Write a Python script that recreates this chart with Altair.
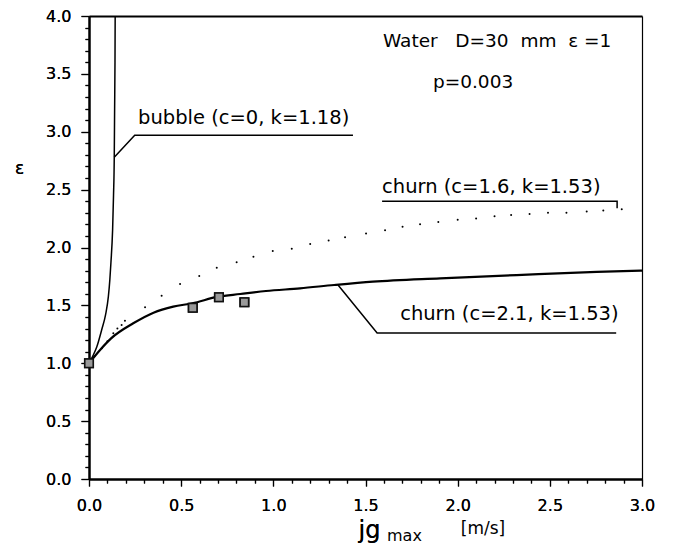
import altair as alt
import pandas as pd

# ---------------- data ----------------
bubble_x = [0.0, 0.02, 0.042, 0.069, 0.09, 0.105, 0.113, 0.119, 0.128, 0.133, 0.137, 0.139, 0.141, 0.142]
bubble_y = [1.0, 1.06, 1.14, 1.29, 1.42, 1.575, 1.72, 1.87, 2.15, 2.45, 2.78, 3.2, 3.6, 4.0]

churn21_x = [0.0, 0.06, 0.12, 0.24, 0.35, 0.457, 0.56, 0.70, 0.82, 0.96, 1.145, 1.33, 1.54, 1.905, 2.32, 2.755, 3.0]
churn21_y = [1.0, 1.115, 1.215, 1.345, 1.437, 1.489, 1.518, 1.575, 1.598, 1.624, 1.647, 1.676, 1.705, 1.734, 1.762, 1.79, 1.80]

churn16_x = [0.03, 0.07, 0.10, 0.132, 0.154, 0.177, 0.195, 0.304, 0.394, 0.494, 0.598, 0.693, 0.801, 0.892,
             0.997, 1.10, 1.20, 1.30, 1.389, 1.503, 1.606, 1.701, 1.796, 1.895, 2.0, 2.1, 2.2, 2.29, 2.39,
             2.49, 2.59, 2.70, 2.79, 2.89]
churn16_y = [1.06, 1.13, 1.19, 1.259, 1.30, 1.33, 1.368, 1.483, 1.584, 1.685, 1.754, 1.826, 1.872, 1.92,
             1.97, 1.99, 2.03, 2.06, 2.088, 2.12, 2.15, 2.18, 2.20, 2.22, 2.24, 2.25, 2.27, 2.28, 2.29,
             2.30, 2.30, 2.31, 2.32, 2.33]

exp_x = [0.0, 0.563, 0.705, 0.843]
exp_y = [1.0, 1.48, 1.57, 1.527]

x_ticks = [0.0, 0.1, 0.2, 0.3, 0.4, 0.5, 0.6, 0.7, 0.8, 0.9, 1.0, 1.1, 1.2, 1.3, 1.4, 1.5,
           1.6, 1.7, 1.8, 1.9, 2.0, 2.1, 2.2, 2.3, 2.4, 2.5, 2.6, 2.7, 2.8, 2.9, 3.0]
y_ticks = [0.0, 0.1, 0.2, 0.3, 0.4, 0.5, 0.6, 0.7, 0.8, 0.9, 1.0, 1.1, 1.2, 1.3, 1.4, 1.5,
           1.6, 1.7, 1.8, 1.9, 2.0, 2.1, 2.2, 2.3, 2.4, 2.5, 2.6, 2.7, 2.8, 2.9, 3.0,
           3.1, 3.2, 3.3, 3.4, 3.5, 3.6, 3.7, 3.8, 3.9, 4.0]

# annotation labels (text, x, y in data units)
label_text = ["bubble (c=0, k=1.18)", "churn (c=1.6, k=1.53)", "churn (c=2.1, k=1.53)"]
label_x = [0.266, 1.59, 1.688]
label_y = [3.064, 2.468, 1.374]

# leader lines
lead_grp = ["b", "b", "b", "c16", "c16", "c16", "c21", "c21", "c21"]
lead_x = [0.137, 0.248, 1.432, 1.59, 2.865, 2.865, 1.351, 1.563, 2.86]
lead_y = [2.78, 2.97, 2.97, 2.40, 2.40, 2.34, 1.676, 1.261, 1.261]

info_text = ["Water\u00a0\u00a0\u00a0D=30\u00a0\u00a0mm\u00a0\u00a0\u03b5\u00a0=1", "p=0.003"]
info_x = [1.595, 1.866]
info_y = [3.73, 3.378]

FONT = "DejaVu Sans"

bubble_df = pd.DataFrame({"x": bubble_x, "y": bubble_y})
c21_df = pd.DataFrame({"x": churn21_x, "y": churn21_y})
c16_df = pd.DataFrame({"x": churn16_x, "y": churn16_y})
exp_df = pd.DataFrame({"x": exp_x, "y": exp_y})
lab_df = pd.DataFrame({"t": label_text, "x": label_x, "y": label_y})
lead_df = pd.DataFrame({"g": lead_grp, "x": lead_x, "y": lead_y, "o": list(range(len(lead_x)))})
info_df = pd.DataFrame({"t": info_text, "x": info_x, "y": info_y})

xs = alt.Scale(domain=[0, 3], nice=False, zero=False)
ys = alt.Scale(domain=[0, 4], nice=False, zero=False)

major_test = "abs(datum.value*2 - round(datum.value*2)) < 0.001"

x_axis = alt.Axis(values=x_ticks, orient="bottom", grid=False,
                  labelExpr=f"{major_test} ? format(datum.value, '.1f') : ''",
                  tickSize={"condition": {"test": major_test, "value": 7}, "value": 4},
                  tickColor="black", tickWidth=1.2, domainColor="black", domainWidth=2,
                  labelFont=FONT, labelFontSize=16, labelColor="black", labelPadding=11,
                  labelFlush=False, labelOverlap=False,
                  title="jg", titleFont=FONT, titleFontSize=24, titleFontWeight="normal",
                  titleColor="black", titleX=280, titleY=58, titleBaseline="alphabetic",
                  titleAlign="center")
y_axis = alt.Axis(values=y_ticks, orient="left", grid=False,
                  labelExpr=f"{major_test} ? format(datum.value, '.1f') : ''",
                  tickSize={"condition": {"test": major_test, "value": 8}, "value": 4},
                  tickColor="black", tickWidth=1.2, domainColor="black", domainWidth=2,
                  labelFont=FONT, labelFontSize=16, labelColor="black", labelPadding=10,
                  labelFlush=False, labelOverlap=False,
                  title="\u03b5", titleFont=FONT, titleFontSize=17, titleFontWeight="normal",
                  titleColor="black", titleAngle=0, titleX=-70, titleY=152,
                  titleBaseline="middle", titleAlign="center")


def enc(axis_x=None, axis_y=None):
    return dict(
        x=alt.X("x:Q", scale=xs, axis=axis_x),
        y=alt.Y("y:Q", scale=ys, axis=axis_y),
    )

exp_layer = alt.Chart(exp_df).mark_square(size=72, color="#999999", stroke="#111111",
                                           strokeWidth=1.6, opacity=1).encode(**enc(x_axis, y_axis))

border = alt.Chart(exp_df).mark_point(opacity=0).encode(
    x=alt.X("x:Q", scale=xs, axis=alt.Axis(orient="top", ticks=False, labels=False, title=None,
                                           domainColor="black", domainWidth=2.2, grid=False)),
    y=alt.Y("y:Q", scale=ys, axis=alt.Axis(orient="right", ticks=False, labels=False, title=None,
                                           domainColor="black", domainWidth=1.2, grid=False)),
)

bubble_layer = alt.Chart(bubble_df).mark_line(color="black", strokeWidth=1.5, interpolate="monotone").encode(**enc())
c21_layer = alt.Chart(c21_df).mark_line(color="black", strokeWidth=2.2, interpolate="monotone").encode(**enc())
c16_layer = alt.Chart(c16_df).mark_circle(size=4, color="black", opacity=1).encode(**enc())

lead_layer = alt.Chart(lead_df).mark_line(color="black", strokeWidth=1.5).encode(
    **enc(), detail="g:N", order="o:Q")

lab_layer = alt.Chart(lab_df).mark_text(align="left", baseline="alphabetic", font=FONT,
                                         fontSize=19.5, color="black").encode(**enc(), text="t:N")
info_layer = alt.Chart(info_df).mark_text(align="left", baseline="alphabetic", font=FONT,
                                           fontSize=18.5, color="black").encode(**enc(), text="t:N")

one = pd.DataFrame({"a": [0]})
max_layer = alt.Chart(one).mark_text(align="left", baseline="alphabetic", font=FONT, fontSize=16,
                                     color="black").encode(x=alt.value(298), y=alt.value(525),
                                                           text=alt.value("max"))
unit_layer = alt.Chart(one).mark_text(align="center", baseline="alphabetic", font=FONT, fontSize=17,
                                      color="black").encode(x=alt.value(394), y=alt.value(518),
                                                            text=alt.value("[m/s]"))

chart = alt.layer(
    exp_layer, border, bubble_layer, c21_layer, c16_layer, lead_layer, lab_layer, info_layer,
    max_layer, unit_layer, exp_layer
).resolve_axis(x="independent", y="independent").properties(
    width=553, height=463,
    autosize=alt.AutoSizeParams(type="none"),
    padding={"left": 81, "top": 8, "right": 20, "bottom": 68},
).configure_view(stroke=None).configure(background="white")

chart.save("out.html", embed_options={"renderer": "svg", "actions": False})
